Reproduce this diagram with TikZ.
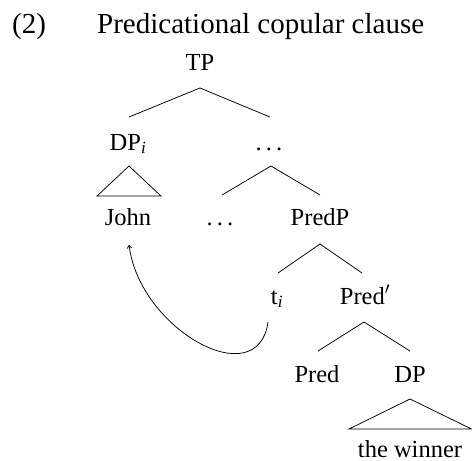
\documentclass[tikz,border=0pt]{standalone}
\usepackage{fontspec}
\setmainfont{Liberation Serif}
\usetikzlibrary{arrows.meta}
\tikzset{
  lbl/.style={anchor=base, inner sep=0pt, font=\fontsize{24.5}{29}\selectfont},
  ttl/.style={anchor=base west, inner sep=0pt, font=\fontsize{29}{34}\selectfont},
  branch/.style={line width=0.75pt},
  move/.style={line width=0.75pt, -{To[length=3.5pt,width=5pt]}}
}
\newcommand{\spaceddots}{.\kern0.17em.\kern0.17em.}
\begin{document}
\begin{tikzpicture}[x=1pt,y=-1pt]
\useasboundingbox (0,0) rectangle (472,461);

% heading
\node[ttl] (num) at (12,33) {(2)};
\node[ttl] (title) at (97,33) {Predicational copular clause};

% labels of the tree
\node[lbl] (TP) at (200,70) {TP};
\node[lbl] (DPi) at (128,150) {DP\textsubscript{\textit{i}}};
\node[lbl] (dots1) at (269,150) {\spaceddots};
\node[lbl] (John) at (128,225) {John};
\node[lbl] (dots2) at (220,225) {\spaceddots};
\node[lbl] (PredP) at (320,225) {PredP};
\node[lbl] (ti) at (277,304) {t\textsubscript{\textit{i}}};
\node[lbl] (PredBar) at (365,304) {Pred$'$};
\node[lbl] (Pred) at (317,382) {Pred};
\node[lbl] (DP) at (410,382) {DP};
\node[lbl] (winner) at (410,457) {the winner};

% branch points
\coordinate (tpB) at (200,88);   \coordinate (tpL) at (129,117); \coordinate (tpR) at (270,117);
\coordinate (dpB) at (129,166);  \coordinate (dpL) at (97,196);  \coordinate (dpR) at (161,196);
\coordinate (d1B) at (271,166);  \coordinate (d1L) at (222,195); \coordinate (d1R) at (320,195);
\coordinate (ppB) at (320,244);  \coordinate (ppL) at (278,273); \coordinate (ppR) at (362,273);
\coordinate (pbB) at (364,322);  \coordinate (pbL) at (318,351); \coordinate (pbR) at (410,351);
\coordinate (dB) at (410,399);   \coordinate (dL) at (349,429);  \coordinate (dR) at (471.5,429);

\draw[branch] (tpL) -- (tpB) -- (tpR);
\draw[branch] (dpB) -- (dpL) -- (dpR) -- cycle;
\draw[branch] (d1L) -- (d1B) -- (d1R);
\draw[branch] (ppL) -- (ppB) -- (ppR);
\draw[branch] (pbL) -- (pbB) -- (pbR);
\draw[branch] (dB) -- (dL) -- (dR) -- cycle;

% movement of the subject
\coordinate (mvFrom) at (268,322);
\coordinate (mvTo) at (129,245);
\draw[move] (mvFrom) .. controls (258,395) and (140,330) .. (mvTo);
\end{tikzpicture}
\end{document}
